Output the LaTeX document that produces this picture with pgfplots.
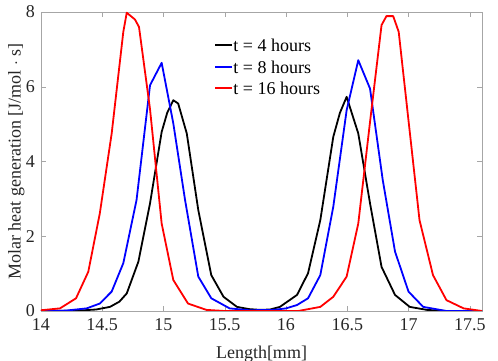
\documentclass[border=0pt]{standalone}
\usepackage{fontspec}
\setmainfont{Liberation Serif}
\usepackage{pgfplots}
\pgfplotsset{compat=1.18}

\begin{document}
\fontsize{18}{21}\selectfont
\begin{tikzpicture}
\begin{axis}[
  scale only axis,
  width=441pt, height=299pt,
  xmin=14, xmax=17.6, ymin=0, ymax=8,
  xtick={14,14.5,15,15.5,16,16.5,17,17.5},
  ytick={0,2,4,6,8},
  tick align=inside,
  major tick length=5pt,
  axis line style={gray!70},
  every tick/.style={gray!70},
  tick label style={black!85},
  /pgf/number format/assume math mode=true,
  xticklabel style={yshift=-1pt},
  xlabel={Length[mm]},
  ylabel={Molar heat generation [J/mol $\cdot$ s]},
  label style={black!85},
  xlabel style={yshift=-3pt},
  ylabel style={yshift=-11pt},
]
\addplot[black, line width=1.8pt, line join=round] coordinates {
  (14.0,0) (14.3,0.01) (14.45,0.04) (14.563,0.11) (14.64,0.25) (14.70,0.47)
  (14.795,1.32) (14.89,2.88) (14.985,4.79) (15.03,5.3) (15.08,5.64) (15.12,5.55)
  (15.19,4.75) (15.284,2.70) (15.39,0.96) (15.49,0.38) (15.60,0.11) (15.7,0.05)
  (15.79,0.03) (15.87,0.04) (15.95,0.11) (16.09,0.43) (16.18,1.01) (16.28,2.43)
  (16.386,4.66) (16.44,5.3) (16.495,5.73) (16.59,4.75) (16.686,2.88) (16.78,1.18)
  (16.89,0.43) (17.01,0.11) (17.15,0.03) (17.3,0.0) (17.6,0)
};
\addplot[blue, line width=1.8pt, line join=round] coordinates {
  (14.0,0) (14.2,0.01) (14.373,0.07) (14.48,0.2) (14.577,0.52) (14.672,1.28)
  (14.78,2.97) (14.89,6.04) (14.985,6.64) (15.08,5.02) (15.176,2.97) (15.284,0.92)
  (15.39,0.34) (15.54,0.07) (15.7,0.02) (15.9,0.03) (16.0,0.07) (16.09,0.16)
  (16.18,0.34) (16.28,0.96) (16.386,2.79) (16.495,5.37) (16.59,6.71) (16.686,5.95)
  (16.79,3.50) (16.89,1.59) (17.0,0.52) (17.12,0.11) (17.31,0.0) (17.6,0)
};
\addplot[red, line width=1.8pt, line join=round] coordinates {
  (14.0,0.02) (14.155,0.07) (14.286,0.34) (14.386,1.05) (14.48,2.61) (14.577,4.75)
  (14.672,7.47) (14.70,7.98) (14.767,7.8) (14.80,7.6) (14.89,5.4) (14.985,2.34)
  (15.08,0.83) (15.20,0.2) (15.35,0.03) (15.5,0.0) (16.1,0.0) (16.28,0.11)
  (16.386,0.38) (16.495,0.92) (16.59,2.34) (16.686,5.06) (16.78,7.65) (16.82,7.89)
  (16.875,7.89) (16.92,7.47) (17.09,2.43) (17.20,0.96) (17.31,0.29) (17.45,0.07)
  (17.6,0.0)
};
% legend, drawn by hand
\draw[black, line width=1.8pt] (rel axis cs:0.395,0.890) -- (rel axis cs:0.433,0.890);
\draw[blue, line width=1.8pt] (rel axis cs:0.395,0.816) -- (rel axis cs:0.433,0.816);
\draw[red, line width=1.8pt] (rel axis cs:0.395,0.746) -- (rel axis cs:0.433,0.746);
\node[anchor=west, inner sep=0pt] at (rel axis cs:0.436,0.890) {t = 4 hours};
\node[anchor=west, inner sep=0pt] at (rel axis cs:0.436,0.816) {t = 8 hours};
\node[anchor=west, inner sep=0pt] at (rel axis cs:0.436,0.746) {t = 16 hours};
\end{axis}
\pgfresetboundingbox
\path (-41pt,-50pt) rectangle (457pt,311pt);
\end{tikzpicture}
\end{document}
